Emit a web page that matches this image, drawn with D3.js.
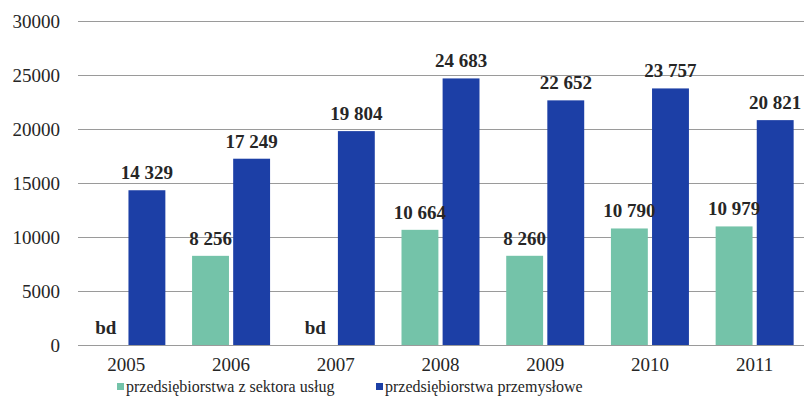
<!DOCTYPE html>
<html>
<head>
<meta charset="utf-8">
<script src="https://cdn.jsdelivr.net/npm/d3@7"></script>
</head>
<body style="margin:0;padding:0;background:#ffffff">
<svg id="chart" width="804" height="408"></svg>
<script>
// Years on the category axis
const years = ["2005", "2006", "2007", "2008", "2009", "2010", "2011"];
// Service-sector enterprises (null = no data, shown as "bd")
const services = [null, 8256, null, 10664, 8260, 10790, 10979];
// Industrial enterprises
const industry = [14329, 17249, 19804, 24683, 22652, 23757, 20821];
// Value axis ticks
const yTicks = [0, 5000, 10000, 15000, 20000, 25000, 30000];
// Series names for the legend
const seriesNames = ["przedsiębiorstwa z sektora usług", "przedsiębiorstwa przemysłowe"];
const colors = ["#74c3a9", "#1c3fa6"];

const FONT = '"Liberation Serif"';
const TEXT_COLOR = "#262626";

const svg = d3.select("#chart");
const W = 804;
const plot = { left: 74, right: 807, top: 21, bottom: 345 };

const x = d3.scaleBand().domain(years).range([plot.left, plot.right]).paddingInner(0).paddingOuter(0);
const y = d3.scaleLinear().domain([0, 30000]).range([plot.bottom, plot.top]);

const barW = 35, gap = 8;
const sub = d3.scaleBand().domain([0, 1])
  .range([x.bandwidth() / 2 - barW - gap / 2, x.bandwidth() / 2 + barW + gap / 2])
  .paddingInner(gap / (2 * barW + gap));

// Horizontal gridlines
svg.append("g").selectAll("line").data(yTicks).join("line")
  .attr("x1", 78).attr("x2", W)
  .attr("y1", d => Math.round(y(d)) + 0.5).attr("y2", d => Math.round(y(d)) + 0.5)
  .attr("stroke", "#9a9a9a").attr("stroke-width", 1);

// Y axis labels
const yAxis = d3.axisLeft(y).tickValues(yTicks).tickSize(0).tickPadding(0).tickFormat(d3.format("d"));
svg.append("g").attr("transform", "translate(60,0)").call(yAxis)
  .attr("font-family", null).attr("font-size", null)
  .call(g => g.select(".domain").remove())
  .call(g => g.selectAll("text")
    .style("font-family", FONT).style("font-size", "19px").style("fill", TEXT_COLOR));

// X axis labels
const xAxis = d3.axisBottom(x).tickSize(0).tickPadding(0);
svg.append("g").attr("transform", `translate(0,${plot.bottom + 12})`).call(xAxis)
  .attr("font-family", null).attr("font-size", null)
  .call(g => g.select(".domain").remove())
  .call(g => g.selectAll("text")
    .style("font-family", FONT).style("font-size", "19px").style("fill", TEXT_COLOR));

const fmt = v => v == null ? "bd" : d3.format(",")(v).replace(/,/g, " ");

const rows = years.map((yr, i) => [
  { yr, s: 0, v: services[i] },
  { yr, s: 1, v: industry[i] }
]).flat();

const bars = svg.append("g");
bars.selectAll("rect").data(rows.filter(d => d.v != null)).join("rect")
  .attr("x", d => x(d.yr) + sub(d.s))
  .attr("width", sub.bandwidth())
  .attr("y", d => y(d.v))
  .attr("height", d => y(0) - y(d.v))
  .attr("fill", d => colors[d.s]);

// Value labels above bars
bars.selectAll("text.val").data(rows).join("text")
  .attr("class", "val")
  .attr("x", d => x(d.yr) + sub(d.s) + sub.bandwidth() / 2)
  .attr("y", d => y(d.v == null ? 0 : d.v) - 11)
  .attr("text-anchor", "middle")
  .style("font-family", FONT).style("font-size", "19px").style("font-weight", "bold")
  .style("fill", TEXT_COLOR)
  .text(d => fmt(d.v));

// Legend
const legendPos = [117, 376];
const legend = svg.append("g");
seriesNames.forEach((name, i) => {
  const g = legend.append("g").attr("transform", `translate(${legendPos[i]},0)`);
  g.append("rect").attr("x", 0).attr("y", 383).attr("width", 7).attr("height", 7).attr("fill", colors[i]);
  g.append("text").attr("x", 9).attr("y", 392)
    .style("font-family", FONT).style("font-size", "16px").style("fill", TEXT_COLOR)
    .text(name);
});
</script>
</body>
</html>
